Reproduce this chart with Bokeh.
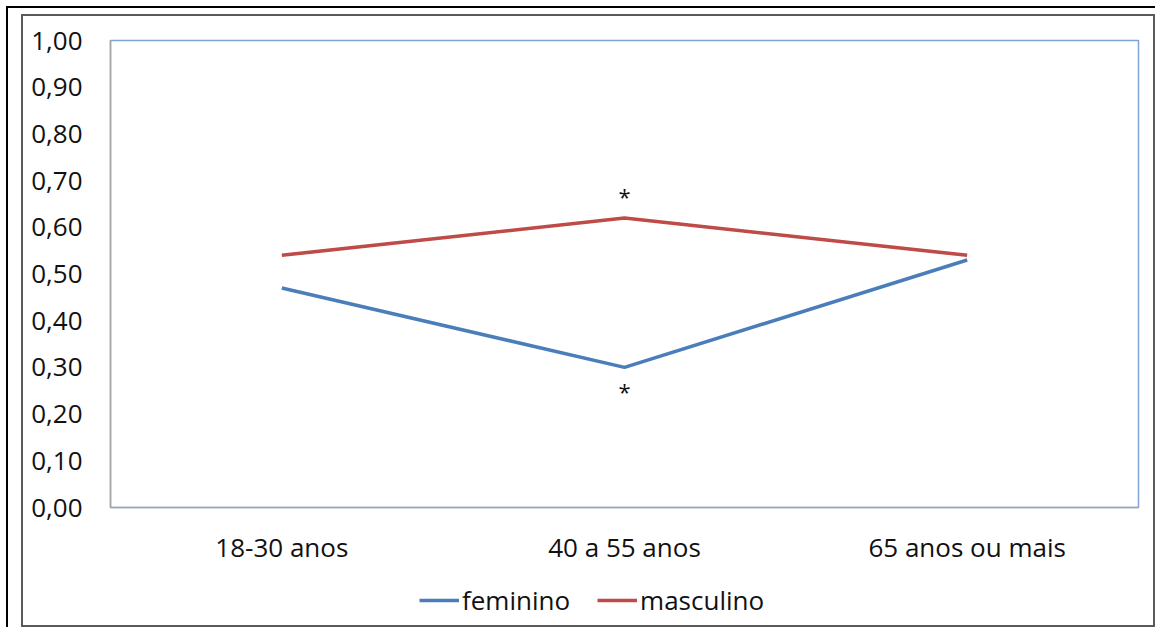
from bokeh.plotting import figure
from bokeh.models import (FactorRange, Range1d, FixedTicker, Legend, LegendItem, Column)
from bokeh.core.properties import value
from bokeh.embed import file_html
from bokeh.resources import INLINE

categories = ["18-30 anos", "40 a 55 anos", "65 anos ou mais"]
feminino = [0.47, 0.30, 0.53]
masculino = [0.54, 0.62, 0.54]
feminino_sig = [False, True, False]
masculino_sig = [False, True, False]
y_ticks = [0.0, 0.1, 0.2, 0.3, 0.4, 0.5, 0.6, 0.7, 0.8, 0.9, 1.0]
y_tick_labels = ["0,00", "0,10", "0,20", "0,30", "0,40", "0,50",
                 "0,60", "0,70", "0,80", "0,90", "1,00"]
series_names = ["feminino", "masculino"]

FONT = "Open Sans"
BLUE = "#4A7EBB"
RED = "#BE4B48"
TXT = "#111111"
LW = 3.5

p = figure(x_range=FactorRange(factors=categories, range_padding=0),
           y_range=Range1d(0, 1),
           width=1130, height=554, output_backend="svg", toolbar_location=None,
           min_border_left=87, min_border_right=15, min_border_top=24,
           min_border_bottom=63)
p.grid.visible = False
p.outline_line_color = "#7FA3D6"
p.outline_line_width = 1.5

for ax in (p.xaxis[0], p.yaxis[0]):
    ax.axis_line_color = "#A6A6A6"
    ax.axis_line_width = 1.5
    ax.major_tick_line_color = None
    ax.minor_tick_line_color = None
    ax.major_tick_out = 0
    ax.major_tick_in = 0
    ax.minor_tick_out = 0
    ax.major_label_text_font = FONT
    ax.major_label_text_font_size = "26px"
    ax.major_label_text_color = TXT

p.yaxis.ticker = FixedTicker(ticks=y_ticks)
p.yaxis.major_label_overrides = {t: l for t, l in zip(y_ticks, y_tick_labels)}
p.yaxis.major_label_standoff = 28
p.xaxis.major_label_standoff = 21

p.line(categories, feminino, line_color=BLUE, line_width=LW)
p.line(categories, masculino, line_color=RED, line_width=LW)

# significance markers
sx_m = [c for c, s in zip(categories, masculino_sig) if s]
sy_m = [v for v, s in zip(masculino, masculino_sig) if s]
sx_f = [c for c, s in zip(categories, feminino_sig) if s]
sy_f = [v for v, s in zip(feminino, feminino_sig) if s]
p.text(sx_m, sy_m, text=value("*"), text_font=value(FONT), text_font_size="22px",
       text_align="center", text_baseline="alphabetic", y_offset=-22, text_color=TXT)
p.text(sx_f, sy_f, text=value("*"), text_font=value(FONT), text_font_size="22px",
       text_align="center", text_baseline="alphabetic", y_offset=24, text_color=TXT)

# legend strip (series drawn out of its visible range; only the legend shows)
pl = figure(width=1130, height=55, output_backend="svg", toolbar_location=None,
            x_range=Range1d(0, 1), y_range=Range1d(5, 6),
            x_axis_type=None, y_axis_type=None,
            min_border_left=0, min_border_right=0, min_border_top=0, min_border_bottom=0)
pl.grid.visible = False
pl.outline_line_color = None
idx = list(range(len(categories)))
lf = pl.line(idx, feminino, line_color=BLUE, line_width=LW)
lm = pl.line(idx, masculino, line_color=RED, line_width=LW)
legend = Legend(items=[LegendItem(label=series_names[0], renderers=[lf]),
                       LegendItem(label=series_names[1], renderers=[lm])],
                orientation="horizontal", location=(309, 7),
                glyph_width=40, glyph_height=20, label_standoff=3, spacing=27,
                padding=0, margin=0, border_line_color=None,
                background_fill_alpha=0,
                label_text_font=FONT, label_text_font_size="26px",
                label_text_color=TXT)
pl.add_layout(legend, "center")

inner = Column(children=[p, pl], width=1134, height=613,
               styles={"border": "2px solid #5A5A5A", "margin-left": "13px",
                       "margin-top": "6px", "box-sizing": "border-box"})
outer = Column(children=[inner],
               styles={"border-top": "2px solid black", "border-left": "2px solid black",
                       "margin-left": "6px", "margin-top": "6px"})

open("out.html", "w").write(file_html(outer, INLINE))
